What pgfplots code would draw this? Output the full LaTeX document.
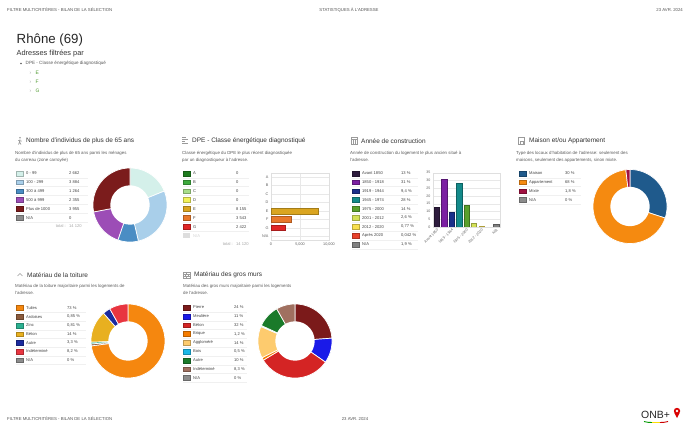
\documentclass[border=0pt]{standalone}
\usepackage{pgfplots}
\pgfplotsset{compat=1.18}
\usepackage{fontspec}
\setmainfont{Liberation Sans}
\newcommand\fs[1]{\fontsize{#1}{#1}\selectfont}
% text colours
\definecolor{ttl}{HTML}{333333}
\definecolor{dsc}{HTML}{5A5A5A}
\definecolor{lgt}{HTML}{444444}
\definecolor{hdr}{HTML}{555555}
\definecolor{icn}{HTML}{9A9A9A}
\definecolor{okg}{HTML}{4E9A2E}
% panel 1
\definecolor{pa}{HTML}{D4F0EA}\definecolor{pb}{HTML}{A9CFEA}\definecolor{pc}{HTML}{4A8DC4}
\definecolor{pd}{HTML}{9C4DB6}\definecolor{pe}{HTML}{7B1C1C}\definecolor{pn}{HTML}{8C8C8C}
% DPE
\definecolor{dA}{HTML}{1E7B1E}\definecolor{dB}{HTML}{3DAA3D}\definecolor{dC}{HTML}{A8DE8A}
\definecolor{dD}{HTML}{F2F25A}\definecolor{dE}{HTML}{DAA520}\definecolor{dF}{HTML}{E8782A}
\definecolor{dG}{HTML}{E02626}\definecolor{dN}{HTML}{DDDDDD}
% construction
\definecolor{c0}{HTML}{2D1B3D}\definecolor{c1}{HTML}{7B1FA2}\definecolor{c2}{HTML}{1A2F8A}
\definecolor{c3}{HTML}{138A8A}\definecolor{c4}{HTML}{5AA02C}\definecolor{c5}{HTML}{D4E157}
\definecolor{c6}{HTML}{F8E04E}\definecolor{c7}{HTML}{E8402A}\definecolor{c8}{HTML}{808080}
% maison
\definecolor{mM}{HTML}{1F5A8C}\definecolor{mA}{HTML}{F58A10}\definecolor{mX}{HTML}{A01040}
% toiture
\definecolor{tT}{HTML}{F5870F}\definecolor{tA}{HTML}{8B5A3C}\definecolor{tZ}{HTML}{2AB090}
\definecolor{tB}{HTML}{E8B020}\definecolor{tU}{HTML}{1A2A9E}\definecolor{tI}{HTML}{E83540}
% murs
\definecolor{wP}{HTML}{7B1A1A}\definecolor{wM}{HTML}{1A1AE8}\definecolor{wB}{HTML}{D42424}
\definecolor{wR}{HTML}{F57C00}\definecolor{wG}{HTML}{FDCB6E}\definecolor{wO}{HTML}{1AB8E8}
\definecolor{wU}{HTML}{1A7A2A}\definecolor{wI}{HTML}{A07060}

\def\splitvc#1/#2\relax{\def\vv{#1}\def\cc{#2}}
\newcommand\donutsegs[2]{%
  \def\cum{0}%
  \pgfplotsforeachungrouped \e in {#2}{%
    \expandafter\splitvc\e\relax
    \pgfmathsetmacro\aa{90-\cum/#1*360}%
    \pgfmathsetmacro\cum{\cum+\vv}%
    \pgfmathsetmacro\bb{90-\cum/#1*360}%
    \edef\temp{\noexpand\addplot[fill=\cc, draw=white, line width=0.7pt, domain=\bb:\aa, samples=60] ({cos(x)},{sin(x)}) -- (0,0) -- cycle;}%
    \temp
  }%
  \addplot[fill=white, draw=none, domain=0:360, samples=100] ({0.53*cos(x)},{0.53*sin(x)}) -- cycle;
}
\pgfplotsset{donut/.style={scale only axis, width=74bp, height=74bp, xmin=-1, xmax=1, ymin=-1, ymax=1, hide axis, clip=false, anchor=center}}

% legend row: swatch x, y, colour, label, value x, value
\def\legw{60}
\newcommand\legrow[6]{%
  \fill[#3, draw=#3!75!black, line width=0.25pt] (#1,{-(#2)+2.4}) rectangle ++(7,-4.8);
  \node[anchor=west, inner sep=0pt, font=\fs{4.1}, text=lgt] at ({#1+10},{-(#2)}) {#4};
  \node[anchor=west, inner sep=0pt, font=\fs{4.1}, text=lgt] at (#5,{-(#2)}) {#6};
  \draw[gray!12, line width=0.3pt] (#1,{-(#2)-4.4}) -- ++(\legw,0);
}
\newcommand\ptitle[3]{\node[anchor=west, inner sep=0pt, font=\fs{6.5}, text=ttl] at (#1,{-(#2)}) {#3};}
\newcommand\pdesc[4]{%
  \node[anchor=west, inner sep=0pt, font=\fs{4.4}, text=dsc] at (#1,{-(#2)}) {#3};
  \node[anchor=west, inner sep=0pt, font=\fs{4.4}, text=dsc] at (#1,{-(#2)-7}) {#4};}

\begin{document}
\begin{tikzpicture}[x=1bp,y=1bp]
\path[use as bounding box, fill=white] (0,0) rectangle (690,-437);
\coordinate (D1) at (130,-205);
\coordinate (B2) at (271,-172.8);
\coordinate (B3) at (433,-227);
\coordinate (D4) at (630,-206.5);
\coordinate (D5) at (128,-341);
\coordinate (D6) at (295,-341);

% header
\node[anchor=west, inner sep=0pt, font=\fs{4.3}, text=hdr] at (7,-10) {FILTRE MULTICRITÈRES - BILAN DE LA SÉLECTION};
\node[inner sep=0pt, font=\fs{4.3}, text=hdr] at (349,-10) {STATISTIQUES À L'ADRESSE};
\node[anchor=east, inner sep=0pt, font=\fs{4.3}, text=hdr] at (683,-10) {23 AVR. 2024};

% title block
\node[anchor=base west, inner sep=0pt, font=\fs{13.3}, text=black!85] at (16.5,-43.5) {Rhône (69)};
\node[anchor=west, inner sep=0pt, font=\fs{7.4}, text=ttl] at (16.5,-54) {Adresses filtrées par};
\fill[dsc] (21,-63.5) circle (0.8);
\node[anchor=west, inner sep=0pt, font=\fs{4.6}, text=dsc] at (25.5,-63.5) {DPE - Classe énergétique diagnostiqué};
\foreach \l/\yy in {E/73,F/82,G/91}{
  \node[anchor=west, inner sep=0pt, font=\fs{5}, text=gray!70] at (29.5,-\yy) {›};
  \node[anchor=west, inner sep=0pt, font=\fs{5}, text=okg] at (35.5,-\yy) {\l};
}

% ===== Panel 1 =====
\fill[icn] (20,-137.8) circle (0.9);
\draw[icn, line width=0.7pt] (20,-139.5) -- (19.5,-142) -- (18.5,-144.5) (19.5,-142) -- (21,-144.5) (18.3,-140.5) -- (21.7,-141.2);
\ptitle{26}{141}{Nombre d'individus de plus de 65 ans}
\pdesc{15}{153}{Nombre d'individus de plus de 65 ans parmi les ménages}{du carreau (zone carroyée)}
\def\legw{72}
\legrow{16}{173.3}{pa}{0 - 99}{69}{2 662}
\legrow{16}{182.2}{pb}{100 - 299}{69}{3 884}
\legrow{16}{191.1}{pc}{300 à 499}{69}{1 264}
\legrow{16}{200.0}{pd}{500 à 999}{69}{2 355}
\legrow{16}{208.9}{pe}{Plus de 1000}{69}{3 955}
\legrow{16}{217.8}{pn}{N/A}{69}{0}
\node[anchor=east, inner sep=0pt, font=\fs{4.1}, text=gray!70] at (66,-226.5) {total :};
\node[anchor=west, inner sep=0pt, font=\fs{4.1}, text=gray!70] at (69,-226.5) {14 120};
\begin{axis}[donut, at={(D1)}]
\donutsegs{14120}{2662/pa,3884/pb,1264/pc,2355/pd,3955/pe}
\end{axis}

% ===== Panel 2 (DPE) =====
\draw[icn, line width=0.6pt] (182,-137.5) -- ++(4,0) (182,-139.5) -- ++(5.5,0) (182,-141.5) -- ++(3,0) (182,-143.5) -- ++(6,0);
\ptitle{192}{141}{DPE - Classe énergétique diagnostiqué}
\pdesc{182}{153}{Classe énergétique du DPE le plus récent diagnostiquée}{par un diagnostiqueur à l'adresse.}
\def\legw{66}
\legrow{183}{173.3}{dA}{A}{236}{0}
\legrow{183}{182.2}{dB}{B}{236}{0}
\legrow{183}{191.1}{dC}{C}{236}{0}
\legrow{183}{200.0}{dD}{D}{236}{0}
\legrow{183}{208.9}{dE}{E}{236}{8 155}
\legrow{183}{217.8}{dF}{F}{236}{3 543}
\legrow{183}{226.7}{dG}{G}{236}{2 422}
\fill[dN] (183,-233.2) rectangle ++(7,-4.8);
\node[anchor=west, inner sep=0pt, font=\fs{4.1}, text=gray!35] at (193,-235.6) {N/A};
\node[anchor=east, inner sep=0pt, font=\fs{4.1}, text=gray!70] at (233,-244.5) {total :};
\node[anchor=west, inner sep=0pt, font=\fs{4.1}, text=gray!70] at (236,-244.5) {14 120};
\begin{axis}[at={(B2)}, anchor=north west, scale only axis, width=58bp, height=67.6bp,
  xbar, bar width=5.7bp, xmin=0, xmax=10000, ymin=-0.5, ymax=7.5, y dir=reverse,
  ytick={0,...,7}, yticklabels={A,B,C,D,E,F,G,N/A}, xtick={0,5000,10000}, xticklabels={0,{5,000},{10,000}},
  scaled x ticks=false, grid=major, grid style={gray!18, line width=0.3pt}, axis line style={gray!25, line width=0.3pt},
  major tick length=0pt, tick label style={font=\fs{3.8}, text=gray!75!black},
  yticklabel style={xshift=1pt}, xticklabel style={yshift=1pt}]
\addplot[fill=dE, draw=dE!75!black, line width=0.3pt, bar shift=0pt] coordinates {(8155,4)};
\addplot[fill=dF, draw=dF!75!black, line width=0.3pt, bar shift=0pt] coordinates {(3543,5)};
\addplot[fill=dG, draw=dG!75!black, line width=0.3pt, bar shift=0pt] coordinates {(2422,6)};
\end{axis}

% ===== Panel 3 (construction) =====
\draw[icn, line width=0.4pt] (351,-137.5) rectangle (357,-144) (351,-139.5) -- (357,-139.5) (353,-139.5) -- (353,-144) (355,-139.5) -- (355,-144);
\ptitle{361}{141}{Année de construction}
\pdesc{350}{153}{Année de construction du logement le plus ancien situé à}{l'adresse.}
\def\legw{66}
\legrow{352}{173.3}{c0}{Avant 1850}{401}{13 \%}
\legrow{352}{182.2}{c1}{1850 - 1918}{401}{31 \%}
\legrow{352}{191.1}{c2}{1919 - 1944}{401}{9,4 \%}
\legrow{352}{200.0}{c3}{1945 - 1974}{401}{28 \%}
\legrow{352}{208.9}{c4}{1975 - 2000}{401}{14 \%}
\legrow{352}{217.8}{c5}{2001 - 2012}{401}{2,6 \%}
\legrow{352}{226.7}{c6}{2012 - 2020}{401}{0,77 \%}
\legrow{352}{235.6}{c7}{Après 2020}{401}{0,042 \%}
\legrow{352}{244.5}{c8}{N/A}{401}{1,9 \%}
\begin{axis}[at={(B3)}, anchor=south west, scale only axis, width=67bp, height=54.3bp,
  ybar, bar width=5.3bp, xmin=-0.5, xmax=8.5, ymin=0, ymax=35,
  ytick={0,5,10,15,20,25,30,35}, yticklabels={0,5,10,15,20,25,30,35}, scaled y ticks=false,
  xtick={0,2,4,6,8}, xticklabels={Avant 1850,1919 - 1944,1975 - 2000,2012 - 2020,N/A},
  ymajorgrids, grid style={gray!18, line width=0.3pt}, axis line style={gray!25, line width=0.3pt},
  major tick length=0pt, tick label style={font=\fs{3.6}, text=gray!75!black},
  xticklabel style={rotate=45, anchor=north east, inner sep=1pt}, yticklabel style={xshift=1pt}]
\addplot[fill=c0, draw=c0!70!black, line width=0.3pt, bar shift=0pt] coordinates {(0,13)};
\addplot[fill=c1, draw=c1!70!black, line width=0.3pt, bar shift=0pt] coordinates {(1,31)};
\addplot[fill=c2, draw=c2!70!black, line width=0.3pt, bar shift=0pt] coordinates {(2,9.4)};
\addplot[fill=c3, draw=c3!70!black, line width=0.3pt, bar shift=0pt] coordinates {(3,28)};
\addplot[fill=c4, draw=c4!70!black, line width=0.3pt, bar shift=0pt] coordinates {(4,14)};
\addplot[fill=c5, draw=c5!70!black, line width=0.3pt, bar shift=0pt] coordinates {(5,2.6)};
\addplot[fill=c6, draw=c6!70!black, line width=0.3pt, bar shift=0pt] coordinates {(6,0.77)};
\addplot[fill=c7, draw=c7!70!black, line width=0.3pt, bar shift=0pt] coordinates {(7,0.042)};
\addplot[fill=c8, draw=c8!70!black, line width=0.3pt, bar shift=0pt] coordinates {(8,1.9)};
\end{axis}

% ===== Panel 4 (maison) =====
\draw[icn, line width=0.4pt] (518.5,-137.5) rectangle (524.5,-144) (520,-141) rectangle (523,-144);
\ptitle{529}{141}{Maison et/ou Appartement}
\pdesc{516}{153}{Type des locaux d'habitation de l'adresse: seulement des}{maisons, seulement des appartements, sinon mixte.}
\def\legw{62}
\legrow{519}{173.3}{mM}{Maison}{565}{30 \%}
\legrow{519}{182.2}{mA}{Appartement}{565}{68 \%}
\legrow{519}{191.1}{mX}{Mixte}{565}{1,8 \%}
\legrow{519}{200.0}{pn}{N/A}{565}{0 \%}
\begin{axis}[donut, at={(D4)}]
\donutsegs{99.8}{30/mM,68/mA,1.8/mX}
\end{axis}

% ===== Panel 5 (toiture) =====
\draw[icn, line width=0.6pt] (17.5,-276) -- (20,-273.5) -- (22.5,-276);
\ptitle{27}{275}{Matériau de la toiture}
\pdesc{15}{286}{Matériau de la toiture majoritaire parmi les logements de}{l'adresse.}
\def\legw{70}
\legrow{16}{308.0}{tT}{Tuiles}{67}{73 \%}
\legrow{16}{316.7}{tA}{Ardoises}{67}{0,85 \%}
\legrow{16}{325.4}{tZ}{Zinc}{67}{0,81 \%}
\legrow{16}{334.1}{tB}{Béton}{67}{14 \%}
\legrow{16}{342.8}{tU}{Autre}{67}{3,3 \%}
\legrow{16}{351.5}{tI}{Indéterminé}{67}{8,2 \%}
\legrow{16}{360.2}{pn}{N/A}{67}{0 \%}
\begin{axis}[donut, at={(D5)}]
\donutsegs{100.16}{73/tT,0.85/tA,0.81/tZ,14/tB,3.3/tU,8.2/tI}
\end{axis}

% ===== Panel 6 (murs) =====
\draw[icn, line width=0.4pt] (183,-272) rectangle (190,-278) (183,-274) -- (190,-274) (183,-276) -- (190,-276) (186.5,-272) -- (186.5,-274) (185,-274) -- (185,-276) (188,-274) -- (188,-276) (186.5,-276) -- (186.5,-278);
\ptitle{194}{275}{Matériau des gros murs}
\pdesc{183}{286}{Matériau des gros murs majoritaire parmi les logements}{de l'adresse.}
\def\legw{64}
\legrow{183}{307.5}{wP}{Pierre}{234}{24 \%}
\legrow{183}{316.3}{wM}{Meulière}{234}{11 \%}
\legrow{183}{325.1}{wB}{Béton}{234}{32 \%}
\legrow{183}{333.9}{wR}{Brique}{234}{1,2 \%}
\legrow{183}{342.7}{wG}{Aggloméré}{234}{14 \%}
\legrow{183}{351.5}{wO}{Bois}{234}{0,5 \%}
\legrow{183}{360.3}{wU}{Autre}{234}{10 \%}
\legrow{183}{369.1}{wI}{Indéterminé}{234}{8,3 \%}
\legrow{183}{377.9}{pn}{N/A}{234}{0 \%}
\begin{axis}[donut, at={(D6)}]
\donutsegs{101}{24/wP,11/wM,32/wB,1.2/wR,14/wG,0.5/wO,10/wU,8.3/wI}
\end{axis}

% footer
\node[anchor=west, inner sep=0pt, font=\fs{4.3}, text=hdr] at (7,-419) {FILTRE MULTICRITÈRES - BILAN DE LA SÉLECTION};
\node[inner sep=0pt, font=\fs{4.3}, text=hdr] at (355,-419) {23 AVR. 2024};
\node[anchor=base west, inner sep=0pt, font=\fs{10.5}, text=black!85] at (641,-418) {ONB+};
\draw[line width=0.9pt, green!60!black] (644,-421.5) to[bend right=8] (652,-422.5);
\draw[line width=0.9pt, yellow!80!orange] (652,-422.5) -- (660,-422.5);
\draw[line width=0.9pt, red!80!black] (660,-422.5) to[bend right=8] (668,-421.5);
\fill[red!85!black] (677,-411) circle (3.2);
\fill[red!85!black] (674.3,-412.8) -- (677,-418) -- (679.7,-412.8) -- cycle;
\fill[white] (677,-411) circle (1.3);
\end{tikzpicture}
\end{document}
